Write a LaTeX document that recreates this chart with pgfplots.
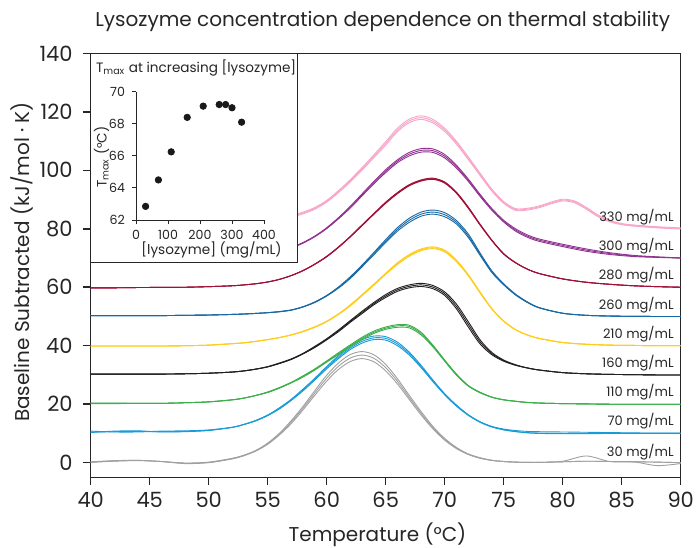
\documentclass[border=0pt]{standalone}
\usepackage{fontspec}
\setmainfont{Poppins}
\usepackage{pgfplots}
\usepackage{pgfplotstable}
\pgfplotsset{compat=1.18}

\definecolor{cGray}{RGB}{160,160,160}
\definecolor{cLBlue}{RGB}{25,155,215}
\definecolor{cGreen}{RGB}{60,175,75}
\definecolor{cBlack}{RGB}{35,31,32}
\definecolor{cYellow}{RGB}{255,205,30}
\definecolor{cBlue}{RGB}{25,105,165}
\definecolor{cRed}{RGB}{160,15,55}
\definecolor{cPurple}{RGB}{145,50,145}
\definecolor{cPink}{RGB}{248,165,200}

% three replicate scans per concentration: columns a, b, c
\pgfplotstableread{
x a b c
40 0.3 0.2 0.1
42 0.7 0.6 0.5
44 0.8 0.8 0.7
46 0.4 0.4 0.4
48 -0.1 -0.2 -0.3
50 0.2 0.1 0.0
52 1.5 1.4 1.3
53 2.6 2.5 2.4
54 4.2 4.1 4.0
55 6.7 6.5 6.3
56 10.1 9.8 9.5
57 14.4 13.9 13.4
58 19.3 18.7 18.1
59 24.7 23.9 23.1
60 29.9 28.9 27.9
61 34.1 33.0 31.9
62 37.0 35.8 34.6
63 38.0 36.8 35.6
64 36.9 35.7 34.5
65 33.6 32.5 31.4
66 28.7 27.8 26.9
67 23.0 22.3 21.6
68 17.5 16.9 16.3
69 12.4 12.0 11.6
70 8.3 8.0 7.7
71 5.2 5.0 4.8
72 3.0 2.9 2.8
73 1.7 1.6 1.5
74 0.8 0.8 0.8
75 0.4 0.4 0.4
76 0.2 0.2 0.2
77 0.1 0.1 0.1
78 0.1 0.1 0.1
80 0.5 0.3 0.3
82 2.3 0.5 0.5
84 0.4 0.4 0.4
86 0.3 0.3 0.3
88 0.2 0.2 -1.0
90 0.0 0.0 -0.3
}\tGray

\pgfplotstableread{
x a b c
40 10.8 10.5 10.3
42 10.5 10.6 10.8
44 10.5 10.7 10.9
46 10.8 10.6 10.5
48 10.9 10.7 10.6
50 11.2 11.1 11.0
52 12.1 12.1 12.1
53 13.1 13.1 13.1
54 14.5 14.4 14.3
55 16.3 16.2 16.1
56 18.8 18.6 18.4
57 21.7 21.5 21.3
58 25.2 24.9 24.6
59 28.9 28.6 28.3
60 32.9 32.5 32.1
61 36.6 36.1 35.6
62 39.7 39.2 38.7
63 42.1 41.5 40.9
64 43.3 42.7 42.1
65 43.1 42.5 41.9
66 41.2 40.6 40.0
67 37.8 37.3 36.8
68 33.3 32.9 32.5
69 28.3 28.0 27.7
70 23.6 23.4 23.2
71 19.7 19.5 19.3
72 16.4 16.3 16.2
73 14.0 13.9 13.8
74 12.4 12.3 12.2
75 11.5 11.3 11.2
76 11.0 10.7 10.6
77 10.7 10.3 10.2
78 10.6 10.15 10.0
80 10.5 10.0 9.9
82 10.4 10.0 9.9
84 10.3 10.0 10.0
86 10.2 10.0 10.0
88 10.1 10.0 10.0
90 10.1 10.0 10.0
}\tLBlue

\pgfplotstableread{
x a b c
40 20.4 20.3 20.2
42 20.4 20.3 20.2
44 20.3 20.3 20.3
46 20.3 20.3 20.3
48 20.5 20.5 20.5
50 20.8 20.8 20.8
52 21.5 21.5 21.5
53 22.1 22.1 22.1
54 23.0 23.0 23.0
55 24.2 24.1 24.0
56 25.7 25.6 25.5
57 27.5 27.4 27.3
58 29.7 29.5 29.3
59 32.1 31.9 31.7
60 34.8 34.6 34.4
61 37.6 37.3 37.0
62 40.3 40.0 39.7
63 42.9 42.5 42.1
64 45.0 44.6 44.2
65 46.4 46.0 45.6
66 47.2 46.8 46.3
67 47.0 46.6 46.1
68 44.6 44.15 43.7
69 40.2 39.9 39.6
70 35.1 34.9 34.7
71 30.3 30.1 29.9
72 26.4 26.3 26.2
73 24.1 24.0 23.9
74 22.4 22.4 22.4
75 21.5 21.5 21.5
76 21.0 21.0 21.0
77 20.6 20.6 20.6
78 20.4 20.4 20.4
80 20.2 20.2 20.2
82 20.1 20.1 20.1
84 20.0 20.0 20.0
86 20.0 20.0 20.0
88 20.0 20.0 20.0
90 20.0 20.0 20.0
}\tGreen

\pgfplotstableread{
x a b c
40 30.3 30.3 30.3
42 30.3 30.3 30.3
44 30.3 30.3 30.3
46 30.3 30.3 30.3
48 30.4 30.4 30.4
50 30.6 30.6 30.6
52 31.0 31.0 31.0
53 31.4 31.4 31.4
54 32.0 32.0 32.0
55 32.85 32.8 32.75
56 34.1 34.0 33.9
57 35.5 35.4 35.3
58 37.4 37.3 37.2
59 39.8 39.6 39.4
60 42.4 42.2 42.0
61 45.4 45.1 44.8
62 48.6 48.3 48.0
63 51.8 51.4 51.0
64 54.8 54.4 54.0
65 57.5 57.0 56.5
66 59.6 59.1 58.6
67 60.8 60.3 59.8
68 61.35 60.8 60.25
69 60.6 60.05 59.5
70 58.4 57.8 57.2
71 54.2 53.4 52.6
72 48.2 47.3 46.4
73 42.0 41.3 40.6
74 37.7 37.3 36.9
75 35.1 34.9 34.7
76 33.5 33.4 33.3
77 32.4 32.4 32.4
78 31.7 31.7 31.7
80 30.8 30.8 30.8
82 30.4 30.4 30.4
84 30.2 30.2 30.2
86 30.1 30.1 30.1
88 30.0 30.0 30.0
90 30.0 30.0 30.0
}\tBlack

\pgfplotstableread{
x a b c
40 39.9 39.9 39.9
42 39.9 39.9 39.9
44 39.9 39.9 39.9
46 39.9 39.9 39.9
48 40.0 40.0 40.0
50 40.2 40.2 40.2
52 40.7 40.7 40.7
53 41.0 41.0 41.0
54 41.5 41.5 41.5
55 42.1 42.1 42.1
56 42.8 42.8 42.8
57 43.7 43.7 43.7
58 45.0 44.9 44.8
59 46.5 46.4 46.3
60 48.4 48.3 48.2
61 50.9 50.8 50.7
62 54.0 53.8 53.6
63 57.5 57.3 57.1
64 61.1 60.9 60.7
65 64.8 64.6 64.4
66 68.4 68.1 67.8
67 71.2 70.9 70.6
68 73.1 72.8 72.5
69 73.8 73.5 73.2
70 72.7 72.4 72.1
71 69.3 69.0 68.7
72 64.3 64.1 63.9
73 58.4 58.2 58.0
74 52.7 52.6 52.5
75 48.5 48.4 48.3
76 45.5 45.5 45.5
77 43.7 43.7 43.7
78 42.5 42.5 42.5
80 41.1 41.1 41.1
82 40.5 40.5 40.5
84 40.2 40.2 40.2
86 40.1 40.1 40.1
88 40.0 40.0 40.0
90 40.0 40.0 40.0
}\tYellow

\pgfplotstableread{
x a b c
40 50.3 50.3 50.3
42 50.3 50.3 50.3
44 50.3 50.3 50.3
46 50.3 50.3 50.3
48 50.4 50.4 50.4
50 50.5 50.5 50.5
52 50.7 50.7 50.7
53 50.85 50.85 50.85
54 51.05 51.05 51.05
55 51.3 51.3 51.3
56 51.7 51.65 51.6
57 52.25 52.2 52.15
58 53.35 53.3 53.25
59 55.0 54.9 54.8
60 57.2 57.1 57.0
61 60.1 59.9 59.7
62 63.6 63.3 63.0
63 67.6 67.3 67.0
64 71.9 71.5 71.1
65 76.3 75.8 75.3
66 80.4 79.8 79.2
67 83.6 82.9 82.2
68 85.7 85.0 84.3
69 86.4 85.7 85.0
70 85.5 84.8 84.1
71 82.8 82.2 81.6
72 78.2 77.6 77.0
73 71.7 71.3 70.9
74 65.6 65.3 65.0
75 61.2 61.0 60.8
76 57.65 57.5 57.35
77 55.0 54.9 54.8
78 53.05 53.0 52.95
80 51.1 51.1 51.1
82 50.4 50.4 50.4
84 50.15 50.15 50.15
86 50.05 50.05 50.05
88 50.0 50.0 50.0
90 50.0 50.0 50.0
}\tBlue

\pgfplotstableread{
x a b c
40 59.8 59.8 59.8
42 59.8 59.8 59.8
44 59.9 59.9 59.9
46 59.95 59.95 59.95
48 60.0 60.0 60.0
50 60.2 60.2 60.2
52 60.5 60.5 60.5
53 60.8 60.8 60.8
54 61.2 61.2 61.2
55 61.8 61.8 61.8
56 62.7 62.7 62.7
57 64.0 64.0 64.0
58 65.75 65.7 65.65
59 67.95 67.9 67.85
60 70.6 70.5 70.4
61 73.8 73.7 73.6
62 77.4 77.3 77.2
63 81.35 81.2 81.05
64 85.25 85.1 84.95
65 89.1 88.9 88.7
66 92.4 92.2 92.0
67 95.1 94.9 94.7
68 96.7 96.5 96.3
69 97.3 97.1 96.9
70 96.0 95.8 95.6
71 92.5 92.3 92.1
72 87.4 87.2 87.0
73 81.55 81.4 81.25
74 76.1 76.0 75.9
75 71.5 71.4 71.3
76 68.45 68.4 68.35
77 66.2 66.2 66.2
78 64.7 64.7 64.7
80 62.85 62.85 62.85
82 61.7 61.7 61.7
84 61.0 61.0 61.0
86 60.5 60.5 60.5
88 60.2 60.2 60.2
90 60.0 60.0 60.0
}\tRed

\pgfplotstableread{
x a b c
40 70.0 70.0 70.0
42 70.0 70.0 70.0
44 70.0 70.0 70.0
46 70.0 70.0 70.0
48 70.0 70.0 70.0
50 70.1 70.1 70.1
52 70.3 70.3 70.3
53 70.5 70.5 70.5
54 70.9 70.9 70.9
55 71.4 71.4 71.4
56 72.35 72.3 72.25
57 73.55 73.5 73.45
58 75.3 75.2 75.1
59 77.5 77.4 77.3
60 80.35 80.2 80.05
61 83.8 83.6 83.4
62 87.7 87.4 87.1
63 91.95 91.6 91.25
64 96.2 95.8 95.4
65 100.2 99.7 99.2
66 103.6 103.1 102.6
67 106.1 105.5 104.9
68 107.4 106.8 106.2
69 107.3 106.7 106.1
70 105.4 104.8 104.2
71 101.7 101.2 100.7
72 97.0 96.6 96.2
73 91.75 91.4 91.05
74 86.9 86.6 86.3
75 82.9 82.6 82.3
76 80.0 79.6 79.2
77 77.9 77.5 77.1
78 76.5 76.1 75.7
80 74.7 74.3 73.9
82 73.1 72.7 72.3
84 71.8 71.5 71.2
86 70.9 70.7 70.5
88 70.4 70.3 70.2
90 70.0 70.0 70.0
}\tPurple

\pgfplotstableread{
x a b c
40 77.5 77.5 77.5
42 78.0 78.0 78.0
44 78.6 78.6 78.6
46 79.2 79.2 79.2
48 79.9 79.9 79.9
50 80.6 80.6 80.6
52 81.4 81.4 81.4
53 81.9 81.9 81.9
54 82.4 82.4 82.4
55 83.3 83.0 82.7
56 83.9 83.6 83.3
57 84.6 84.3 84.0
58 85.7 85.4 85.1
59 87.3 87.0 86.7
60 89.7 89.4 89.1
61 93.05 92.7 92.35
62 96.8 96.4 96.0
63 100.95 100.5 100.05
64 105.3 104.8 104.3
65 109.8 109.2 108.6
66 114.4 113.8 113.2
67 117.5 116.9 116.3
68 118.6 118.0 117.4
69 117.4 116.8 116.2
70 114.35 113.8 113.25
71 109.9 109.4 108.9
72 104.55 104.1 103.65
73 99.0 98.6 98.2
74 93.55 93.2 92.85
75 89.3 89.0 88.7
76 86.9 86.6 86.3
77 87.0 86.7 86.4
78 87.8 87.5 87.2
79 89.1 88.8 88.5
80 90.1 89.8 89.5
81 89.5 89.2 88.9
82 87.3 87.0 86.7
83 84.7 84.4 84.1
84 82.85 82.6 82.35
85 81.8 81.6 81.4
86 81.3 81.1 80.9
88 80.7 80.5 80.3
90 80.3 80.1 79.9
}\tPink

\newcommand{\reps}[2]{%
  \addplot[#2, line width=0.45pt, smooth] table[x=x, y=a] {#1};
  \addplot[#2, line width=0.45pt, smooth] table[x=x, y=b] {#1};
  \addplot[#2, line width=0.45pt, smooth] table[x=x, y=c] {#1};
}

\begin{document}
\begin{tikzpicture}
\begin{axis}[
  at={(0,0)}, anchor=south west,
  scale only axis, width=295pt, height=212pt,
  xmin=40, xmax=90, ymin=-5, ymax=140,
  xtick={40,45,...,90}, ytick={0,20,...,140},
  tick pos=left, tick align=outside,
  major tick length=4pt,
  axis line style={line width=0.75pt, black!85},
  every tick/.style={line width=0.75pt, black!85},
  /pgf/number format/assume math mode=true,
  tick label style={font=\fontsize{10.5}{12}\selectfont, black!85},
  yticklabel style={xshift=-1.5pt},
  title={Lysozyme concentration dependence on thermal stability},
  title style={at={(axis description cs:0.495,1.0745)}, anchor=center,
    yshift=-6pt, font=\fontsize{10}{12}\selectfont, black!85},
  xlabel={Temperature (°C)},
  xlabel style={at={(axis description cs:0.486,-0.152)}, anchor=base,
    font=\fontsize{10}{12}\selectfont, black!85},
  ylabel={Baseline Subtracted (kJ/mol · K)},
  ylabel style={at={(axis description cs:-0.1164,0.508)}, anchor=center,
    font=\fontsize{10}{12}\selectfont, black!85},
  clip=true,
]
\reps{\tGray}{cGray}
\reps{\tLBlue}{cLBlue}
\reps{\tGreen}{cGreen}
\reps{\tBlack}{cBlack}
\reps{\tYellow}{cYellow}
\reps{\tBlue}{cBlue}
\reps{\tRed}{cRed}
\reps{\tPurple}{cPurple}
\reps{\tPink}{cPink}

\begin{scope}[every node/.style={anchor=east, font=\fontsize{6.5}{8}\selectfont, black!85}]
\node at (axis cs:90,84.0) {330 mg/mL};
\node at (axis cs:90,74.0) {300 mg/mL};
\node at (axis cs:90,64.2) {280 mg/mL};
\node at (axis cs:90,53.8) {260 mg/mL};
\node at (axis cs:90,43.8) {210 mg/mL};
\node at (axis cs:90,34.0) {160 mg/mL};
\node at (axis cs:90,24.0) {110 mg/mL};
\node at (axis cs:90,14.3) {70 mg/mL};
\node at (axis cs:90,3.6) {30 mg/mL};
\end{scope}
\end{axis}

% inset frame
\draw[draw=black!85, fill=white, line width=0.75pt] (0,107.3pt) rectangle (103.3pt,212pt);

\begin{axis}[
  at={(22.65pt,128.65pt)}, anchor=south west,
  scale only axis, width=64pt, height=64.15pt,
  xmin=0, xmax=400, ymin=62, ymax=70,
  xtick={0,100,...,400}, ytick={62,64,...,70},
  axis lines=left, axis line style={-, line width=0.5pt, black!85},
  tick align=outside, major tick length=2pt,
  every tick/.style={line width=0.5pt, black!85},
  /pgf/number format/assume math mode=true,
  tick label style={font=\fontsize{6.3}{7}\selectfont, black!85},
  xticklabel style={yshift=0.5pt},
  title={T\textsubscript{max} at increasing [lysozyme]},
  title style={at={(axis description cs:0.47,1.185)}, anchor=center,
    yshift=-6pt, font=\fontsize{6.8}{8}\selectfont, black!85},
  xlabel={[lysozyme] (mg/mL)},
  xlabel style={at={(axis description cs:0.59,-0.235)}, anchor=center,
    font=\fontsize{6.8}{8}\selectfont, black!85},
  ylabel={T\textsubscript{max} (°C)},
  ylabel style={at={(axis description cs:-0.27,0.49)}, anchor=center,
    font=\fontsize{6.8}{8}\selectfont, black!85},
  clip=false,
]
\addplot[only marks, mark=*, mark size=1.6pt, black!90] coordinates {
  (30,62.85) (70,64.5) (110,66.25) (160,68.4) (210,69.1)
  (260,69.2) (280,69.2) (300,69.0) (330,68.1)};
\end{axis}

\pgfresetboundingbox
\path (-45.35pt,-34.85pt) rectangle (304.15pt,238.65pt);
\end{tikzpicture}
\end{document}
